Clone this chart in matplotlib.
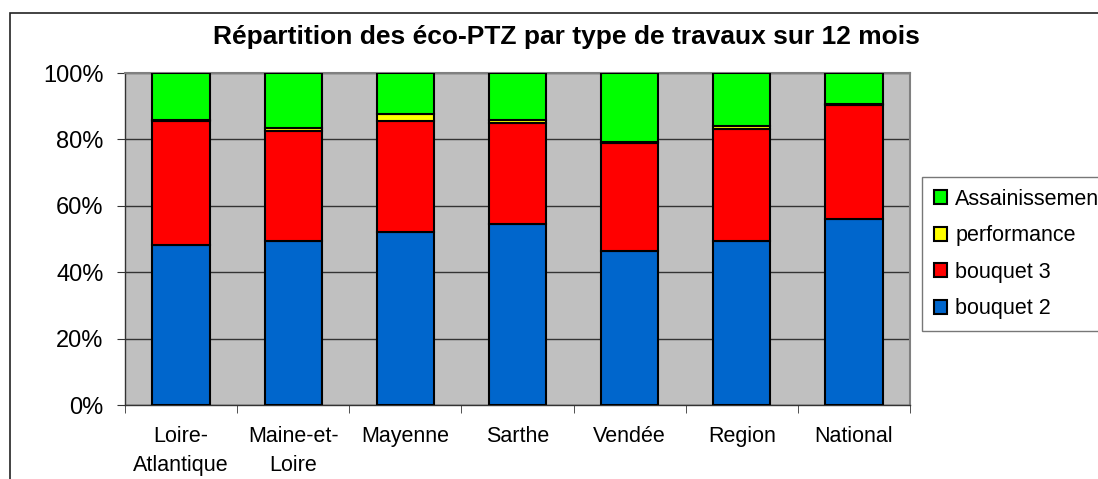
import matplotlib
matplotlib.use("Agg")
import matplotlib.pyplot as plt
from matplotlib.patches import Rectangle
import numpy as np

plt.rcParams['font.family'] = ['Liberation Sans', 'DejaVu Sans']

categories = ["Loire-\nAtlantique", "Maine-et-\nLoire", "Mayenne", "Sarthe", "Vendée", "Region", "National"]
bouquet2 = [48.2, 49.4, 52.1, 54.5, 46.4, 49.4, 56.0]
bouquet3 = [37.3, 33.1, 33.4, 30.5, 32.6, 33.6, 34.4]
performance = [0.3, 0.9, 2.1, 0.8, 0.3, 1.1, 0.3]
assainissement = [100 - a - b - c for a, b, c in zip(bouquet2, bouquet3, performance)]

series = [
    ("bouquet 2", bouquet2, "#0066CC"),
    ("bouquet 3", bouquet3, "#FF0000"),
    ("performance", performance, "#FFFF00"),
    ("Assainissement", assainissement, "#00FF00"),
]

W, H = 1098, 479
fig = plt.figure(figsize=(W/100, H/100), dpi=100)
ax = fig.add_axes([125/W, 1-405/H, (910-125)/W, (405-73)/H])
ax.set_facecolor("#C0C0C0")

x = np.arange(len(categories))
bottom = np.zeros(len(categories))
handles = {}
for name, vals, col in series:
    v = np.array(vals)
    h = ax.bar(x, v, bottom=bottom, width=0.51, color=col, edgecolor="black", linewidth=1.5, label=name, zorder=3)
    handles[name] = h
    bottom += v

ax.set_xlim(-0.5, len(categories) - 0.5)
ax.set_ylim(0, 100)
ax.set_yticks([0, 20, 40, 60, 80, 100])
ax.set_yticklabels(["0%", "20%", "40%", "60%", "80%", "100%"], fontsize=17)
ax.yaxis.grid(True, color="#333333", linewidth=1.0, zorder=1)
ax.set_axisbelow(True)

ax.set_xticks(x)
ax.set_xticklabels(categories, fontsize=15.5, linespacing=1.5, va="top")
ax.tick_params(axis="x", which="major", length=0, pad=15)
ax.set_xticks(np.arange(-0.5, len(categories), 1.0), minor=True)
ax.tick_params(axis="x", which="minor", length=6, direction="out", color="#333333")
ax.tick_params(axis="y", length=6, direction="out", color="#333333", pad=9.5)

for s in ["top", "right"]:
    ax.spines[s].set_color("#808080")
    ax.spines[s].set_linewidth(1.5)
for s in ["left", "bottom"]:
    ax.spines[s].set_color("#333333")
    ax.spines[s].set_linewidth(1.0)

fig.text(566/W, 1 - 37/H, "Répartition des éco-PTZ par type de travaux sur 12 mois",
         ha="center", va="center", fontsize=19, fontweight="bold")

order = ["Assainissement", "performance", "bouquet 3", "bouquet 2"]
leg = fig.legend([handles[n] for n in order], order, loc="upper left",
                 bbox_to_anchor=(922/W, 1-177/H), fontsize=15.5,
                 frameon=True, fancybox=False, edgecolor="#555555",
                 handlelength=0.6, handleheight=0.6, handletextpad=0.4,
                 labelspacing=0.72, borderpad=0.55, borderaxespad=0)
leg.get_frame().set_linewidth(1.0)

# outer chart border (left and top visible, extends beyond the image)
fig.patches.append(Rectangle((10/W, -0.1), 1.2, 1 - 13/H + 0.1, transform=fig.transFigure,
                             fill=False, edgecolor="#222222", linewidth=1.2, zorder=0))

fig.savefig("out.png", dpi=100)
